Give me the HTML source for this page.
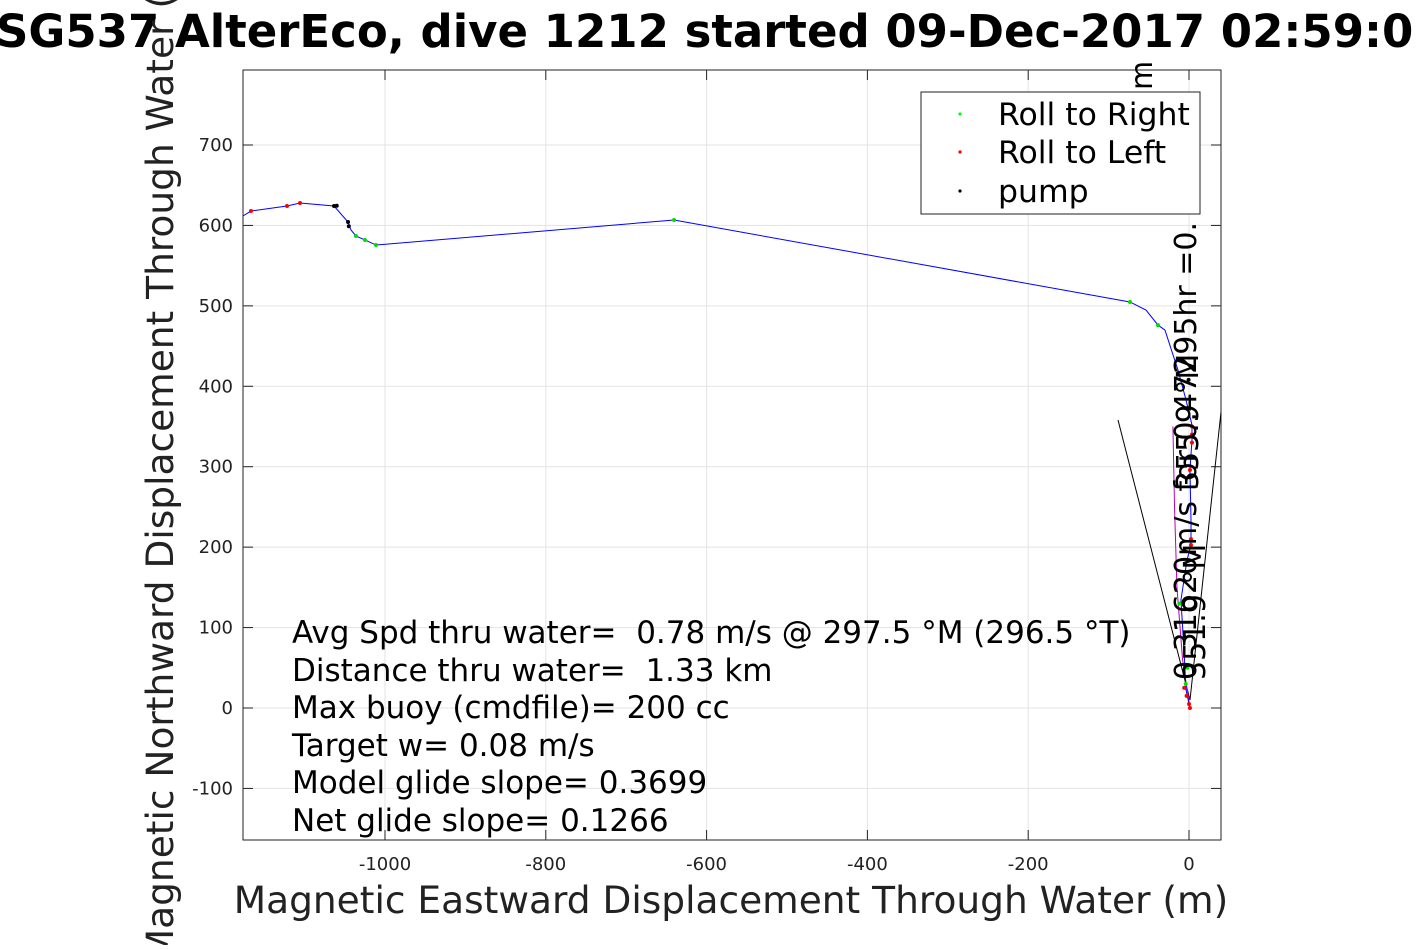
<!DOCTYPE html>
<html><head><meta charset="utf-8"><style>
body{margin:0;background:#fff;width:1417px;height:945px;overflow:hidden}
svg{font-family:"DejaVu Sans","Liberation Sans",sans-serif}
text{white-space:pre}
</style></head><body>
<svg id="c" width="1417" height="945">
<text x="-4" y="47" font-size="45" font-weight="bold">SG537 AlterEco, dive 1212 started 09-Dec-2017 02:59:0</text>
<rect x="243" y="70" width="978" height="770" fill="#fff" stroke="#222"/>
<g id="grid"></g><g id="ticks"></g>
<g id="marks"></g>
<text x="731" y="913" font-size="37.5" text-anchor="middle" fill="#222">Magnetic Eastward Displacement Through Water (m)</text>
<text transform="translate(173,452) rotate(-90)" font-size="37.5" text-anchor="middle" fill="#222">Magnetic Northward Displacement Through Water (m)</text>
<g font-size="31">
<text x="292" y="643" xml:space="preserve">Avg Spd thru water=  0.78 m/s @ 297.5 °M (296.5 °T)</text>
<text x="292" y="681" xml:space="preserve">Distance thru water=  1.33 km</text>
<text x="292" y="718">Max buoy (cmdfile)= 200 cc</text>
<text x="292" y="756">Target w= 0.08 m/s</text>
<text x="292" y="793">Model glide slope= 0.3699</text>
<text x="292" y="831">Net glide slope= 0.1266</text>
</g>
<g font-size="30">
<text transform="translate(1196,680) rotate(-90)">0.31620m/s for 0.47295hr =0.</text>
<text transform="translate(1198,490) rotate(-90)">355.9 °M</text>
<text transform="translate(1205,680) rotate(-90)">351.9 °M</text>
<text transform="translate(1152,90) rotate(-90)">m</text>
</g>
<g>
<rect x="921" y="92" width="279" height="122" fill="#fff" stroke="#222"/>
<circle cx="960" cy="114" r="1.6" fill="#0f0"/><text x="998" y="125" font-size="31.5">Roll to Right</text>
<circle cx="960" cy="152" r="1.6" fill="#f00"/><text x="998" y="163" font-size="31.5">Roll to Left</text>
<circle cx="960" cy="191" r="1.6" fill="#000"/><text x="998" y="202" font-size="31.5">pump</text>
</g>
</svg>
<script>
const xTicks=[-1000,-800,-600,-400,-200,0];
const yTicks=[-100,0,100,200,300,400,500,600,700];
const trackX=[1.2,-3.7,-6.2,-10,-2.5,2.5,2.5,1.2,3.7,3.7,-3.7,-13.7,-29.9,-38.6,-53.5,-73.4,-640.5,-1011.2,-1024.9,-1036.1,-1042.3,-1046,-1063.4,-1105.7,-1121.9,-1166.7,-1176.6];
const trackY=[0,22.4,72.1,134.3,184,202.7,233.7,295.9,333.2,351.9,382.9,420.2,469.9,476.1,494.8,504.8,606.7,575.6,581.9,586.8,594.3,604.2,624.1,627.9,624.1,617.9,611.7];
const greenX=[-73.4,-38.6,-640.5,-1011.2,-1024.9,-1036.1,-4,-2,-12];
const greenY=[504.8,476.1,606.7,575.6,581.9,586.8,30,50,130];
const redX=[-1166.7,-1121.9,-1105.7,1.2,3.7,3.7,3.7,1.2,2.5,2.5,0,-3,-6];
const redY=[617.9,624.1,627.9,0,330,340,350,295.9,202.7,210,5,15,25];
const blackX=[-1063.4,-1060,-1046,-1045,-0.5];
const blackY=[624.1,624.5,604.2,599,408];
const magX=[1.2,-8,-15,-18,-20];
const magY=[0,60,150,250,350];
const X=v=>1189+v*0.804, Y=v=>708-v*0.8043;
const NS='http://www.w3.org/2000/svg';
function mk(t,a,p){const e=document.createElementNS(NS,t);for(const k in a)e.setAttribute(k,a[k]);p.appendChild(e);return e;}
const grid=document.getElementById('grid'),ticks=document.getElementById('ticks'),marks=document.getElementById('marks');
xTicks.forEach(v=>{const x=X(v);
 const g=mk('line',{x1:x,x2:x,y1:70,y2:840,stroke:'#e3e3e3'},grid);
 
 
 mk('line',{x1:x,x2:x,y1:840,y2:830,stroke:'#222'},ticks);
 mk('line',{x1:x,x2:x,y1:70,y2:80,stroke:'#222'},ticks);
 const t=mk('text',{x:x,y:870,'font-size':18,'text-anchor':'middle',fill:'#222'},ticks);t.textContent=v;
 
 });
yTicks.forEach(v=>{const y=Y(v);
 const g=mk('line',{x1:243,x2:1221,y1:y,y2:y,stroke:'#e3e3e3'},grid);
 
 
 mk('line',{x1:243,x2:253,y1:y,y2:y,stroke:'#222'},ticks);
 mk('line',{x1:1211,x2:1221,y1:y,y2:y,stroke:'#222'},ticks);
 const t=mk('text',{x:233,y:y+6,'font-size':18,'text-anchor':'end',fill:'#222'},ticks);t.textContent=v;
 
 });
const w1=mk('line',{x1:1118,y1:420,x2:1190,y2:700,stroke:'#000'},marks);


const w2=mk('line',{x1:1190,y1:700,x2:1221,y2:412,stroke:'#000'},marks);


const mp=mk('polyline',{points:magX.map((v,i)=>X(v)+','+Y(magY[i])).join(' '),fill:'none',stroke:'#b0b'},marks);


const tp=mk('polyline',{points:trackX.map((v,i)=>X(v)+','+Y(trackY[i])).join(' '),fill:'none',stroke:'#00f'},marks);


function dots(xs,ys,c,n){xs.forEach((v,i)=>{const d=mk('circle',{cx:X(v),cy:Y(ys[i]),r:2,fill:c},marks);
 
 });}
dots(greenX,greenY,'#0d0','roll-right-point');
dots(redX,redY,'#f00','roll-left-point');
dots(blackX,blackY,'#000','pump-point');
</script>
</body></html>
